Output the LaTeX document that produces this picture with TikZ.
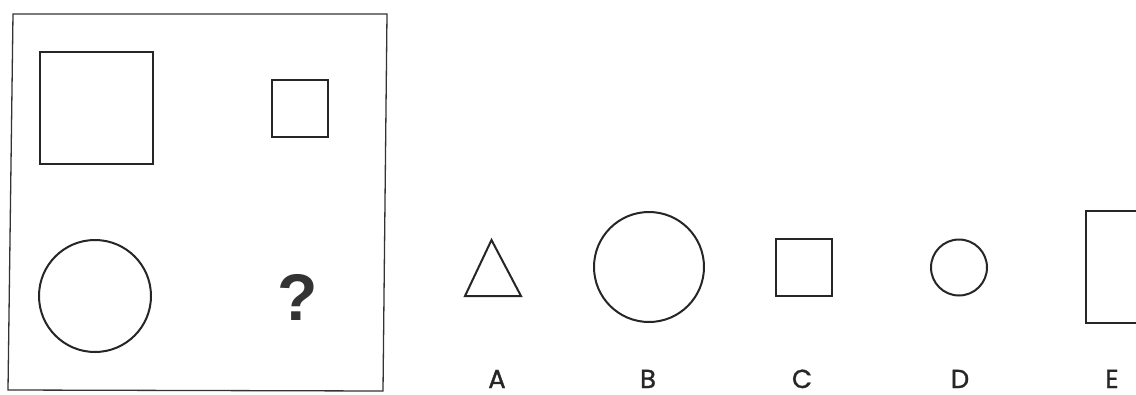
\documentclass[tikz,border=0pt]{standalone}
\usepackage{fontspec}
\setmainfont{Liberation Sans}
\newfontfamily\labfont{Poppins}[FakeBold=1.2]
\begin{document}
\begin{tikzpicture}[x=1pt,y=-1pt,
  shp/.style={draw=black!85,line width=2pt},
  lab/.style={font=\labfont\fontsize{26}{26}\selectfont,text=black!85,inner sep=0pt,anchor=base}]
\path[use as bounding box] (0,0) rectangle (1136,394);
\clip (0,0) rectangle (1136,394);
\fill[white] (0,0) rectangle (1136,394);
% frame
\draw[black!80,line width=1.3pt] (13,14) -- (387,14) -- (383,391) -- (8,390) -- cycle;
% grid shapes
\draw[shp] (40,52) rectangle (153,164);
\draw[shp] (272,80) rectangle (328,137);
\draw[shp] (95,296) circle (56);
\node[font=\bfseries\fontsize{66}{66}\selectfont,text=black!80,inner sep=0pt] (q) at (298,297) {?};
% options
\draw[shp] (491.5,240) -- (521,296) -- (465,296) -- cycle;
\draw[shp] (649,267) circle (55);
\draw[shp] (776,239) rectangle (832,296);
\draw[shp] (959,267.5) circle (28);
\draw[shp] (1086,211) rectangle (1199,323);
% labels
\node[lab] (la) at (497,388) {A};
\node[lab] (lb) at (648,388) {B};
\node[lab] (lc) at (802,388) {C};
\node[lab] (ld) at (960,388) {D};
\node[lab] (le) at (1112,388) {E};
\end{tikzpicture}
\end{document}
